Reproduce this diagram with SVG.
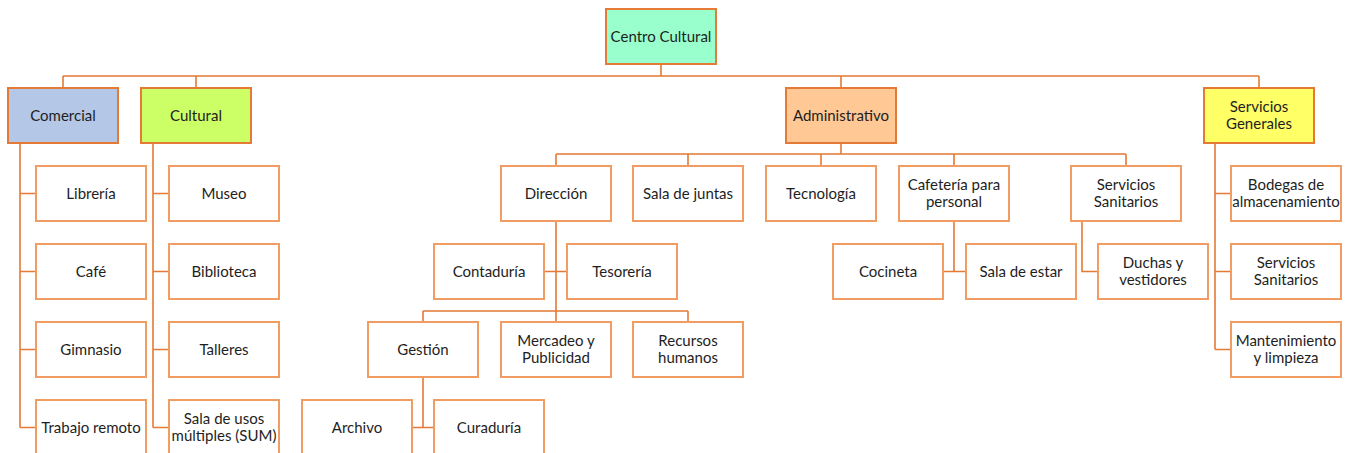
<svg xmlns="http://www.w3.org/2000/svg" width="1352" height="453" viewBox="0 0 1352 453">
<style>
.top{stroke:#E47A36;stroke-width:2}
.box{fill:#FFFFFF;stroke:#F09C62;stroke-width:2}
.ln{fill:none;stroke:#E47A36;stroke-width:1.6}
text{font-family:Lato,"Liberation Sans",sans-serif;font-size:15px;fill:#1E1E1E;text-anchor:middle;dominant-baseline:central}
</style>
<rect width="1352" height="453" fill="#FFFFFF"/>
<g id="connectors" class="ln">
<path d="M661 64V76M63 76H1259M63 76V88M196 76V88M841 76V88M1259 76V88"/>
<path d="M20 143V427.5M20 193.5H36M20 271.5H36M20 349.5H36M20 427.5H36"/>
<path d="M153 143V427.5M153 193.5H169M153 271.5H169M153 349.5H169M153 427.5H169"/>
<path d="M841 143V154M556 154H1126M556 154V166M688 154V166M821 154V166M954 154V166M1126 154V166"/>
<path d="M556 221V322M544 271.5H567M423 311H688M423 311V322M688 311V322"/>
<path d="M423 377V427.5M412 427.5H434"/>
<path d="M954 221V271.5M943 271.5H966"/>
<path d="M1082 221V271.5H1098"/>
<path d="M1215 143V349.5M1215 193.5H1231M1215 271.5H1231M1215 349.5H1231"/>
</g>
<g id="centro"><rect class="top" x="606" y="9" width="110" height="55" fill="#99FFCC"/><text x="661" y="35.5">Centro Cultural</text></g>
<g id="comercial"><rect class="top" x="8" y="88" width="110" height="55" fill="#B4C7E7"/><text x="63" y="114.5">Comercial</text></g>
<g id="cultural"><rect class="top" x="141" y="88" width="110" height="55" fill="#CCFF66"/><text x="196" y="114.5">Cultural</text></g>
<g id="administrativo"><rect class="top" x="786" y="88" width="110" height="55" fill="#FFC895"/><text x="841" y="114.5">Administrativo</text></g>
<g id="servicios-generales"><rect class="top" x="1204" y="88" width="110" height="55" fill="#FFFF66"/><text x="1259" y="106">Servicios</text><text x="1259" y="123">Generales</text></g>

<g id="libreria"><rect class="box" x="36" y="166" width="110" height="55"/><text x="91" y="192.5">Librería</text></g>
<g id="cafe"><rect class="box" x="36" y="244" width="110" height="55"/><text x="91" y="270.5">Café</text></g>
<g id="gimnasio"><rect class="box" x="36" y="322" width="110" height="55"/><text x="91" y="348.5">Gimnasio</text></g>
<g id="trabajo-remoto"><rect class="box" x="36" y="400" width="110" height="55"/><text x="91" y="426.5">Trabajo remoto</text></g>

<g id="museo"><rect class="box" x="169" y="166" width="110" height="55"/><text x="224" y="192.5">Museo</text></g>
<g id="biblioteca"><rect class="box" x="169" y="244" width="110" height="55"/><text x="224" y="270.5">Biblioteca</text></g>
<g id="talleres"><rect class="box" x="169" y="322" width="110" height="55"/><text x="224" y="348.5">Talleres</text></g>
<g id="sum"><rect class="box" x="169" y="400" width="110" height="55"/><text x="224" y="418">Sala de usos</text><text x="224" y="435">múltiples (SUM)</text></g>

<g id="direccion"><rect class="box" x="501" y="166" width="110" height="55"/><text x="556" y="192.5">Dirección</text></g>
<g id="sala-juntas"><rect class="box" x="633" y="166" width="110" height="55"/><text x="688" y="192.5">Sala de juntas</text></g>
<g id="tecnologia"><rect class="box" x="766" y="166" width="110" height="55"/><text x="821" y="192.5">Tecnología</text></g>
<g id="cafeteria"><rect class="box" x="899" y="166" width="110" height="55"/><text x="954" y="184">Cafetería para</text><text x="954" y="201">personal</text></g>
<g id="servicios-sanitarios-adm"><rect class="box" x="1071" y="166" width="110" height="55"/><text x="1126" y="184">Servicios</text><text x="1126" y="201">Sanitarios</text></g>

<g id="contaduria"><rect class="box" x="434" y="244" width="110" height="55"/><text x="489" y="270.5">Contaduría</text></g>
<g id="tesoreria"><rect class="box" x="567" y="244" width="110" height="55"/><text x="622" y="270.5">Tesorería</text></g>
<g id="cocineta"><rect class="box" x="833" y="244" width="110" height="55"/><text x="888" y="270.5">Cocineta</text></g>
<g id="sala-estar"><rect class="box" x="966" y="244" width="110" height="55"/><text x="1021" y="270.5">Sala de estar</text></g>
<g id="duchas"><rect class="box" x="1098" y="244" width="110" height="55"/><text x="1153" y="262">Duchas y</text><text x="1153" y="279">vestidores</text></g>

<g id="gestion"><rect class="box" x="368" y="322" width="110" height="55"/><text x="423" y="348.5">Gestión</text></g>
<g id="mercadeo"><rect class="box" x="501" y="322" width="110" height="55"/><text x="556" y="340">Mercadeo y</text><text x="556" y="357">Publicidad</text></g>
<g id="recursos-humanos"><rect class="box" x="633" y="322" width="110" height="55"/><text x="688" y="340">Recursos</text><text x="688" y="357">humanos</text></g>

<g id="archivo"><rect class="box" x="302" y="400" width="110" height="55"/><text x="357" y="426.5">Archivo</text></g>
<g id="curaduria"><rect class="box" x="434" y="400" width="110" height="55"/><text x="489" y="426.5">Curaduría</text></g>

<g id="bodegas"><rect class="box" x="1231" y="166" width="110" height="55"/><text x="1286" y="184">Bodegas de</text><text x="1286" y="201">almacenamiento</text></g>
<g id="servicios-sanitarios-sg"><rect class="box" x="1231" y="244" width="110" height="55"/><text x="1286" y="262">Servicios</text><text x="1286" y="279">Sanitarios</text></g>
<g id="mantenimiento"><rect class="box" x="1231" y="322" width="110" height="55"/><text x="1286" y="340">Mantenimiento</text><text x="1286" y="357">y limpieza</text></g>
</svg>
